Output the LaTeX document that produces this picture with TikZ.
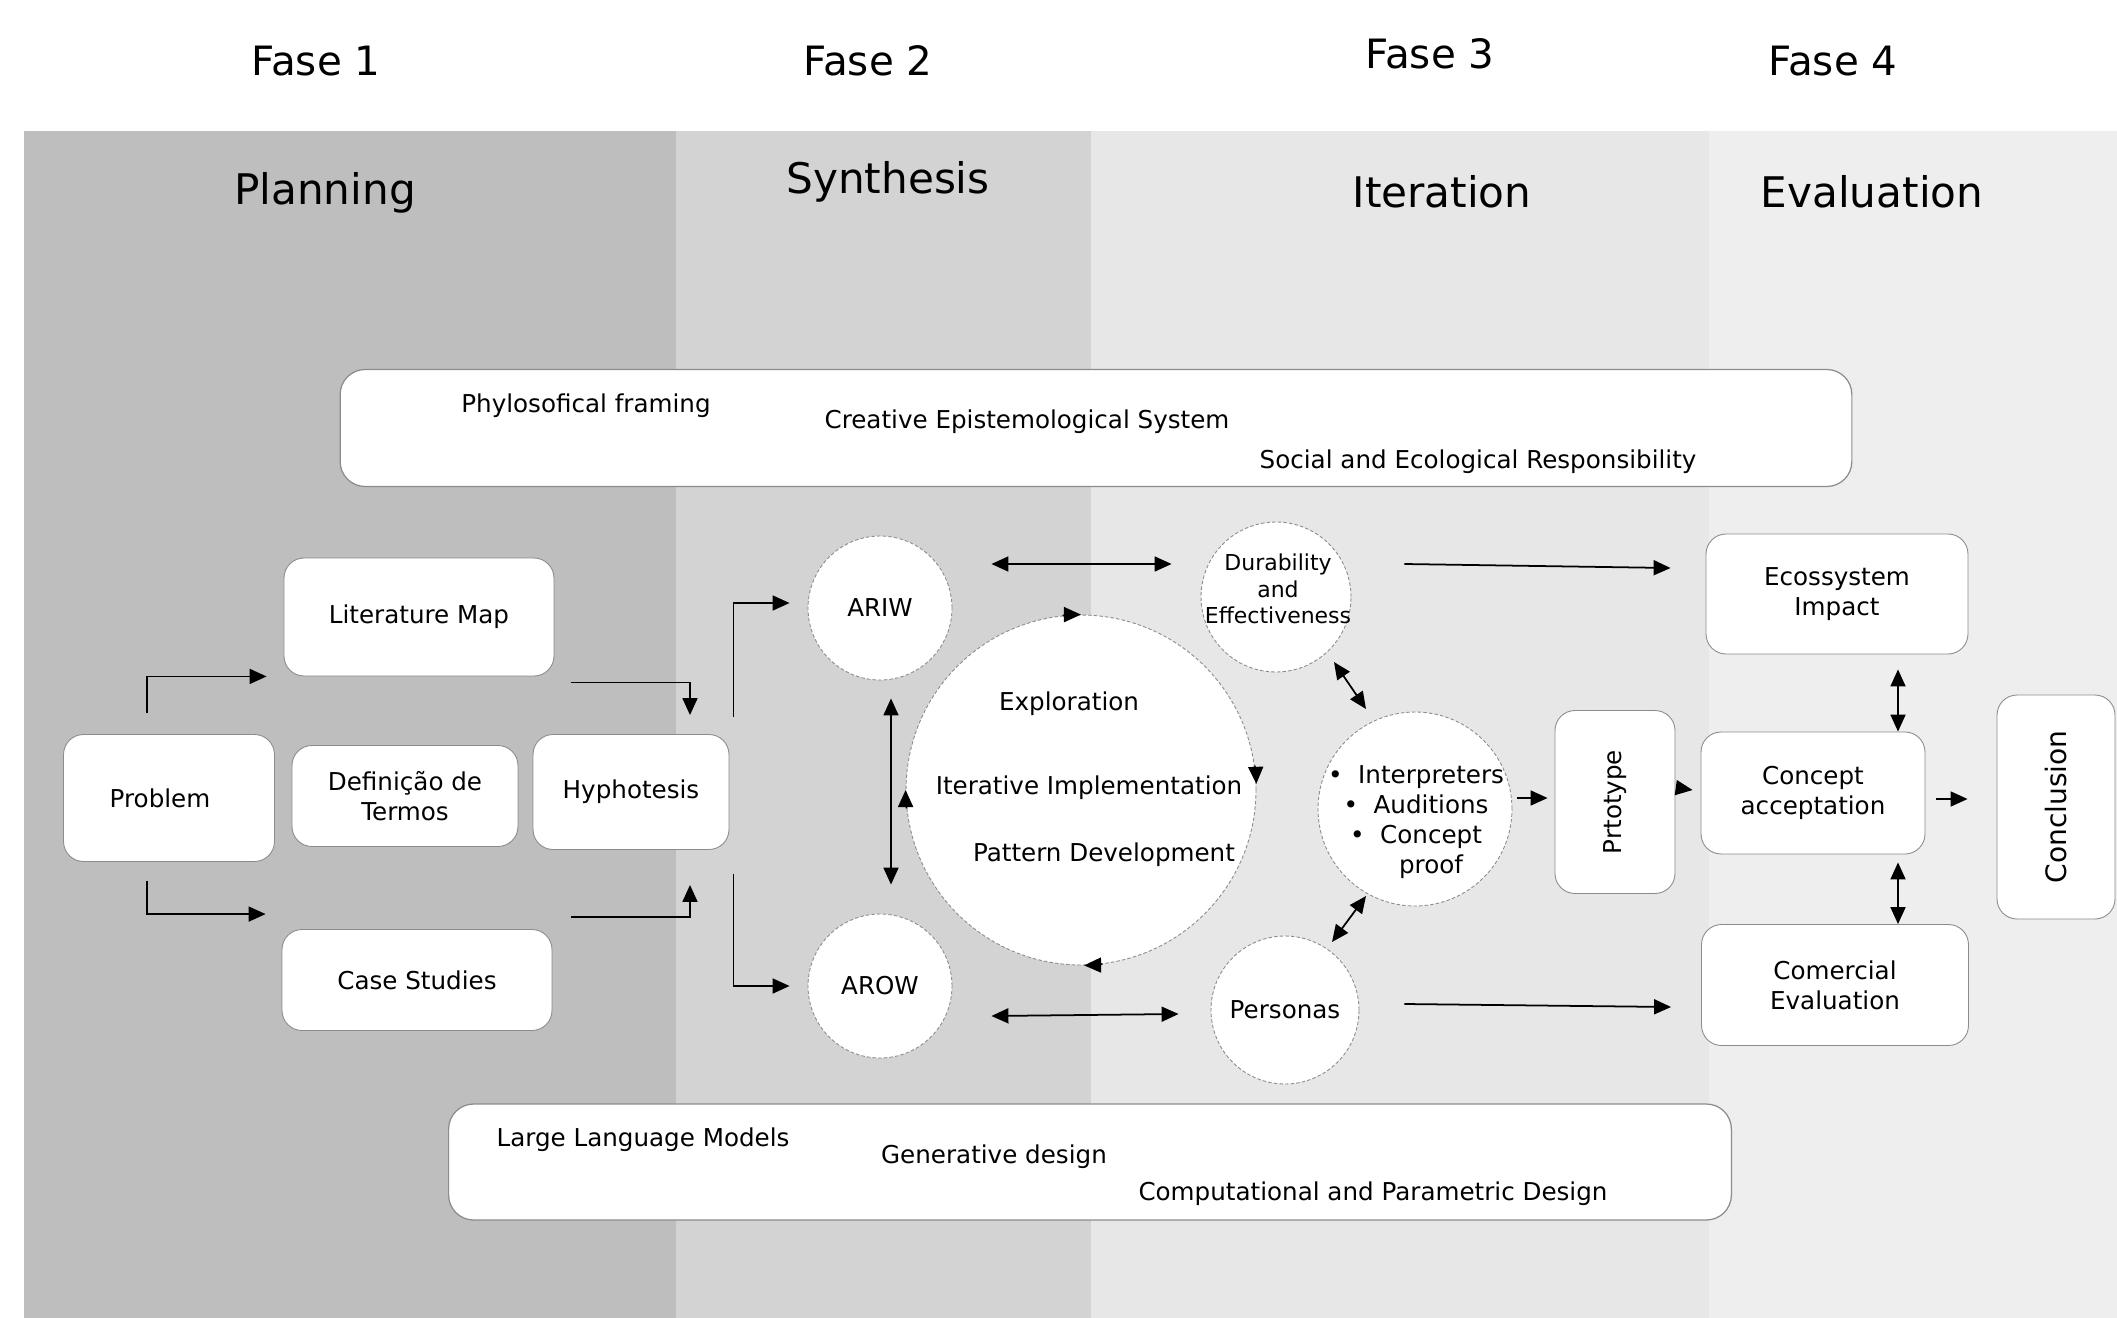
\documentclass[tikz,border=0pt]{standalone}
\usepackage{fontspec}
\setmainfont{DejaVu Sans}
\usetikzlibrary{arrows.meta}

\definecolor{planbg}{HTML}{BEBEBE}
\definecolor{synbg}{HTML}{D3D3D3}
\definecolor{iterbg}{HTML}{E7E7E7}
\definecolor{evalbg}{HTML}{EEEEEE}
\definecolor{edge}{HTML}{8C8C8C}

\tikzset{
  txt/.style={font=\fontsize{14}{17}\selectfont, align=center, inner sep=0pt},
  box/.style={txt, draw=edge, fill=white, rounded corners=0.4cm, line width=0.5pt},
  bubble/.style={txt, circle, draw=edge, fill=white, dash pattern=on 2pt off 1.2pt, line width=0.5pt},
  widebox/.style={draw=edge, fill=white, rounded corners=0.5cm, line width=0.7pt},
  head/.style={font=\fontsize{23}{28}\selectfont, inner sep=0pt},
  title/.style={font=\fontsize{24}{28}\selectfont, inner sep=0pt},
  arr/.style={-{Triangle[length=0.34cm, width=0.3cm]}, line width=1pt},
  darr/.style={{Triangle[length=0.34cm, width=0.3cm]}-{Triangle[length=0.34cm, width=0.3cm]}, line width=1pt},
}

\begin{document}
\begin{tikzpicture}[x=0.02cm, y=-0.02cm]
\useasboundingbox (0,0) rectangle (2117,1318);
\fill[white] (0,0) rectangle (2117,1318);

% phases
\fill[planbg] (24,131) rectangle (676,1318);
\fill[synbg] (676,131) rectangle (1091,1318);
\fill[iterbg] (1091,131) rectangle (1709,1318);
\fill[evalbg] (1709,131) rectangle (2117,1318);

\node[head] (fase1) at (316,61) {Fase 1};
\node[head] (fase2) at (868,61) {Fase 2};
\node[head] (fase3) at (1430,54) {Fase 3};
\node[head] (fase4) at (1833,61) {Fase 4};

\node[title] (planning) at (325,193) {Planning};
\node[title] (synthesis) at (888,182) {Synthesis};
\node[title] (iteration) at (1442,192) {Iteration};
\node[title] (evaluation) at (1872,192) {Evaluation};

% framing bands
\node[widebox, minimum width=30.24cm, minimum height=2.34cm] (framing) at (1096,428) {};
\node[txt] (philo) at (586,406) {Phylosofical framing};
\node[txt] (ces) at (1027,422) {Creative Epistemological System};
\node[txt] (ser) at (1478,462) {Social and Ecological Responsibility};

\node[widebox, minimum width=25.66cm, minimum height=2.32cm] (tools) at (1090,1162) {};
\node[txt] (llm) at (643,1140) {Large Language Models};
\node[txt] (gen) at (994,1157) {Generative design};
\node[txt] (cpd) at (1373,1194) {Computational and Parametric Design};

% planning
\node[box, minimum width=4.22cm, minimum height=2.54cm] (prob) at (169,798) {};
\node[txt] (probtxt) at (160,798) {Problem};
\node[box, minimum width=4.52cm, minimum height=2.02cm] (defs) at (405,796) {Definição de\\Termos};
\node[box, minimum width=3.92cm, minimum height=2.3cm] (hyp) at (631,792) {Hyphotesis};
\node[box, minimum width=5.4cm, minimum height=2.36cm] (lit) at (419,617) {Literature Map};
\node[box, minimum width=5.4cm, minimum height=2.02cm] (case) at (417,980) {Case Studies};

\draw[arr] ([shift={(-22,-21)}]prob.north) |- ([shift={(-17,0)}]lit.south west);
\draw[arr] ([shift={(-22,19)}]prob.south) |- ([shift={(-16,-15)}]case.north west);
\draw[arr] ([shift={(17,6)}]lit.south east) -| ([shift={(59,-19)}]hyp.north);
\draw[arr] ([shift={(19,-12)}]case.north east) -| ([shift={(59,35)}]hyp.south);

% synthesis
\node[bubble, minimum size=2.88cm] (ariw) at (880,608) {ARIW};
\node[bubble, minimum size=2.88cm] (arow) at (880,986) {AROW};
\node[bubble, minimum size=7cm] (big) at (1081,790) {};
\node[txt] (explo) at (1069,704) {Exploration};
\node[txt] (impl) at (1089,788) {Iterative Implementation};
\node[txt] (patt) at (1104,855) {Pattern Development};

\draw[arr] ([shift={(4,-17)}]hyp.north east) |- ([shift={(-18,-5)}]ariw.west);
\draw[arr] ([shift={(4,24)}]hyp.south east) |- ([shift={(-18,0)}]arow.west);
\draw[darr] ([shift={(11,18)}]ariw.south) -- ([shift={(11,-29)}]arow.north);

% cycle round the big circle
\draw[arr] (big.96) arc[start angle=96, end angle=90, radius=3.5cm];
\draw[arr] (big.8) arc[start angle=8, end angle=2, radius=3.5cm];
\draw[arr] (big.-83) arc[start angle=-83, end angle=-89, radius=3.5cm];
\draw[arr] (big.186) arc[start angle=186, end angle=180, radius=3.5cm];

% iteration
\node[bubble, minimum size=3cm] (dur) at (1276,597) {};
\node[txt, font=\fontsize{12.5}{15}\selectfont] (durtxt) at (1278,589) {Durability\\and\\Effectiveness};
\node[bubble, minimum size=2.96cm] (pers) at (1285,1010) {Personas};
\node[bubble, minimum size=3.88cm] (int) at (1415,809) {};
\node[txt] (inttxt) at (1416,822) {\textbullet\ \ Interpreters\\\textbullet\ \ Auditions\\\textbullet\ \ Concept\\\hspace*{0.6cm}proof};
\node[box, minimum width=2.4cm, minimum height=3.66cm] (prt) at (1615,802) {};
\node[txt, rotate=90] (prttxt) at (prt) {Prtotype};

\draw[darr] ([shift={(39,-44)}]ariw.east) -- ([shift={(-29,-33)}]dur.west);
\draw[darr] ([shift={(39,30)}]arow.east) -- ([shift={(-32,4)}]pers.west);
\draw[darr] ([shift={(58,65)}]dur.center) -- ([shift={(-49,-100)}]int.center);
\draw[darr] ([shift={(47,-68)}]pers.center) -- ([shift={(-49,87)}]int.center);
\draw[arr] ([shift={(5,-11)}]int.east) -- ([shift={(-7,-4)}]prt.west);

% evaluation
\node[box, minimum width=4.48cm, minimum height=2.44cm] (conc) at (1813,793) {Concept\\acceptation};
\node[box, minimum width=5.24cm, minimum height=2.4cm] (eco) at (1837,594) {Ecossystem\\Impact};
\node[box, minimum width=5.34cm, minimum height=2.42cm] (com) at (1835,985) {Comercial\\Evaluation};
\node[box, minimum width=2.36cm, minimum height=4.48cm] (concl) at (2056,807) {};
\node[txt, rotate=90, font=\fontsize{16}{19}\selectfont] (concltxt) at (concl) {Conclusion};

\draw[arr] ([shift={(3,-14)}]prt.east) -- ([shift={(-8,-3)}]conc.west);
\draw[arr] ([shift={(53,-33)}]dur.east) -- ([shift={(-35,-26)}]eco.west);
\draw[arr] ([shift={(45,-6)}]pers.east) -- ([shift={(-30,22)}]com.west);
\draw[darr] ([shift={(61,15)}]eco.south) -- ([shift={(85,0)}]conc.north);
\draw[darr] ([shift={(85,8)}]conc.south) -- ([shift={(63,0)}]com.north);
\draw[arr] ([shift={(11,6)}]conc.east) -- ([shift={(-29,-8)}]concl.west);

\end{tikzpicture}
\end{document}
